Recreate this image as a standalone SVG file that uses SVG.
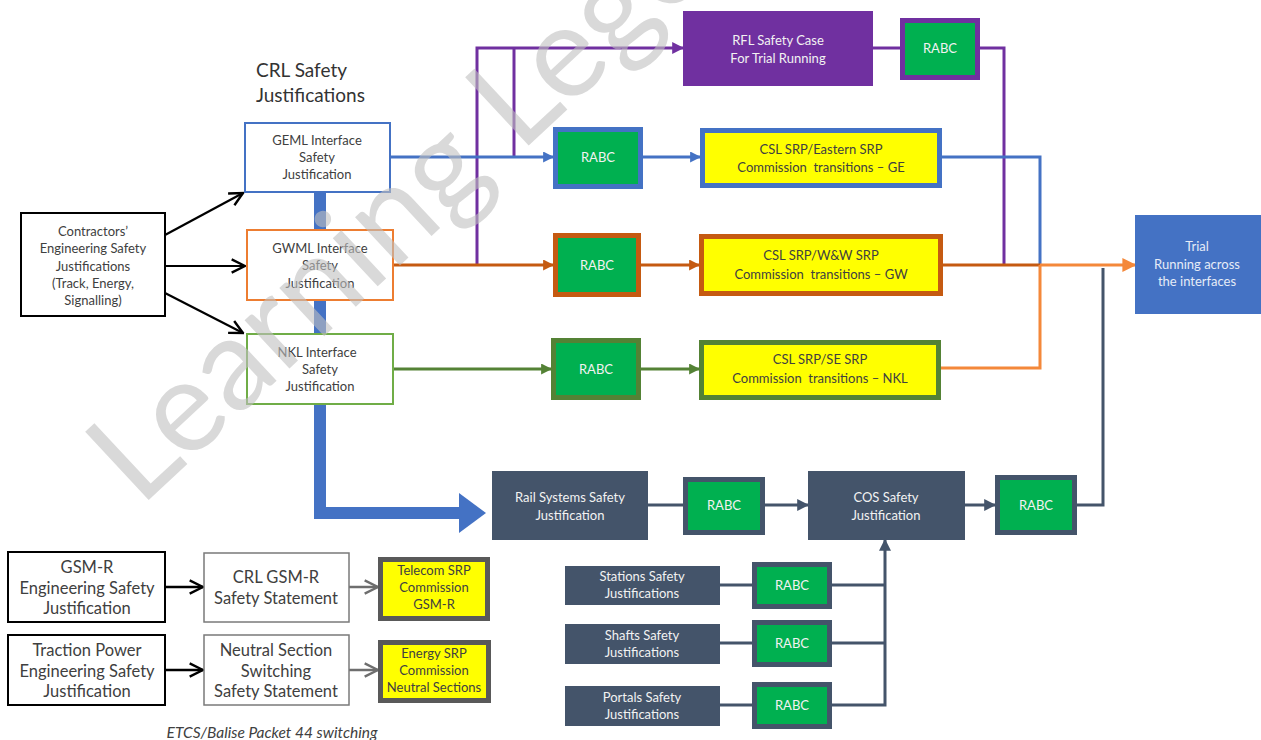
<svg xmlns="http://www.w3.org/2000/svg" width="1261" height="740" viewBox="0 0 1261 740">
  <style>
    .t { font-family: Lato, "Open Sans", "Liberation Sans", sans-serif; text-anchor: middle; }
    .s12 { font-size: 13px; }
    .s17 { font-size: 16.5px; }
    .dark { fill: #404040; }
    .light { fill: #f2f2f2; }
    .wbox { fill: #ffffff; }
    .slate { fill: #44546A; }
    .rabc { fill: #00B050; stroke-width: 5; }
    .srp { fill: #FFFF00; stroke-width: 5; }
    .ln { fill: none; stroke-width: 3; }
  </style>
  <defs>
    <marker id="ab" viewBox="0 0 10 10" refX="9" refY="5" markerWidth="11" markerHeight="11" markerUnits="userSpaceOnUse" orient="auto">
      <path d="M0,0 L10,5 L0,10 z" fill="#4472C4"/>
    </marker>
    <marker id="ao" viewBox="0 0 10 10" refX="9" refY="5" markerWidth="11" markerHeight="11" markerUnits="userSpaceOnUse" orient="auto">
      <path d="M0,0 L10,5 L0,10 z" fill="#C55A11"/>
    </marker>
    <marker id="ao2" viewBox="0 0 10 10" refX="9" refY="5" markerWidth="14" markerHeight="14" markerUnits="userSpaceOnUse" orient="auto">
      <path d="M0,0 L10,5 L0,10 z" fill="#F4883A"/>
    </marker>
    <marker id="ag" viewBox="0 0 10 10" refX="9" refY="5" markerWidth="11" markerHeight="11" markerUnits="userSpaceOnUse" orient="auto">
      <path d="M0,0 L10,5 L0,10 z" fill="#548235"/>
    </marker>
    <marker id="ap" viewBox="0 0 10 10" refX="9" refY="5" markerWidth="12" markerHeight="12" markerUnits="userSpaceOnUse" orient="auto">
      <path d="M0,0 L10,5 L0,10 z" fill="#7030A0"/>
    </marker>
    <marker id="as" viewBox="0 0 10 10" refX="9" refY="5" markerWidth="12" markerHeight="12" markerUnits="userSpaceOnUse" orient="auto">
      <path d="M0,0 L10,5 L0,10 z" fill="#44546A"/>
    </marker>
    <marker id="ak" viewBox="0 0 12 12" refX="11" refY="6" markerWidth="16" markerHeight="16" markerUnits="userSpaceOnUse" orient="auto">
      <path d="M1,1 L11,6 L1,11" fill="none" stroke="#000" stroke-width="1.8"/>
    </marker>
    <marker id="agr" viewBox="0 0 12 12" refX="11" refY="6" markerWidth="16" markerHeight="16" markerUnits="userSpaceOnUse" orient="auto">
      <path d="M1,1 L11,6 L1,11" fill="none" stroke="#6e6e6e" stroke-width="1.8"/>
    </marker>
  </defs>

  <rect width="1261" height="740" fill="#ffffff"/>

  <!-- heading -->
  <text x="256" y="77" style="font-family: Lato, 'Open Sans', 'Liberation Sans', sans-serif; font-size: 19px;" fill="#333333">CRL Safety</text>
  <text x="256" y="102" style="font-family: Lato, 'Open Sans', 'Liberation Sans', sans-serif; font-size: 19px;" fill="#333333">Justifications</text>

  <!-- connectors -->
  <g id="connectors">
    <!-- wide blue route to rail systems -->
    <path d="M320,192 V513 H462" fill="none" stroke="#4472C4" stroke-width="12"/>
    <polygon points="459,493 486,513 459,533" fill="#4472C4"/>

    <!-- contractors fan-out -->
    <line x1="165" y1="235" x2="243" y2="193" stroke="#000" stroke-width="2.2" marker-end="url(#ak)"/>
    <line x1="165" y1="266" x2="245" y2="266" stroke="#000" stroke-width="2.2" marker-end="url(#ak)"/>
    <line x1="165" y1="293" x2="243" y2="333" stroke="#000" stroke-width="2.2" marker-end="url(#ak)"/>

    <!-- purple RFL route -->
    <path class="ln" d="M477,265 V48 H683" stroke="#7030A0" marker-end="url(#ap)"/>
    <path class="ln" d="M514,157 V48" stroke="#7030A0"/>
    <path class="ln" d="M873,48 H900" stroke="#7030A0"/>
    <path class="ln" d="M980,48 H1004 V265" stroke="#7030A0"/>

    <!-- GE route -->
    <path class="ln" d="M390,157 H553" stroke="#4472C4" marker-end="url(#ab)"/>
    <path class="ln" d="M643,157 H700" stroke="#4472C4" marker-end="url(#ab)"/>
    <path class="ln" d="M942,157 H1040 V265" stroke="#4472C4"/>

    <!-- GW route -->
    <path class="ln" d="M393,265 H553" stroke="#C55A11" marker-end="url(#ao)"/>
    <path class="ln" d="M641,265 H699" stroke="#C55A11" marker-end="url(#ao)"/>
    <path class="ln" d="M943,265 H1040" stroke="#C55A11"/>
    <path class="ln" d="M1040,265 H1135" stroke="#F4883A" marker-end="url(#ao2)"/>

    <!-- NKL route -->
    <path class="ln" d="M393,369 H551" stroke="#548235" marker-end="url(#ag)"/>
    <path class="ln" d="M641,369 H699" stroke="#548235" marker-end="url(#ag)"/>
    <path class="ln" d="M941,368 H1040 V265" stroke="#F4883A"/>

    <!-- COS chain -->
    <path class="ln" d="M648,505 H683" stroke="#44546A"/>
    <path class="ln" d="M765,505 H808" stroke="#44546A" marker-end="url(#as)"/>
    <path class="ln" d="M965,505 H995" stroke="#44546A" marker-end="url(#as)"/>
    <path class="ln" d="M1077,505 H1103 V268" stroke="#44546A"/>
    <path class="ln" d="M720,585 H752 M720,643 H752 M720,705 H752" stroke="#44546A"/>
    <path class="ln" d="M832,585 H885 M832,643 H885" stroke="#44546A"/>
    <path class="ln" d="M832,705 H885 V540" stroke="#44546A" marker-end="url(#as)"/>

    <!-- GSM-R and traction power rows -->
    <line x1="165" y1="587" x2="203" y2="587" stroke="#000" stroke-width="2.5" marker-end="url(#ak)"/>
    <line x1="349" y1="587" x2="378" y2="587" stroke="#6e6e6e" stroke-width="2.5" marker-end="url(#agr)"/>
    <line x1="165" y1="670" x2="203" y2="670" stroke="#000" stroke-width="2.5" marker-end="url(#ak)"/>
    <line x1="349" y1="670" x2="378" y2="670" stroke="#6e6e6e" stroke-width="2.5" marker-end="url(#agr)"/>
  </g>

  <!-- interface justifications -->
  <g id="geml">
    <rect class="wbox" x="245" y="123" width="145" height="69" stroke="#4472C4" stroke-width="2"/>
    <text class="t s12 dark" x="317" y="145">GEML Interface</text>
    <text class="t s12 dark" x="317" y="162">Safety</text>
    <text class="t s12 dark" x="317" y="179">Justification</text>
  </g>
  <g id="gwml">
    <rect class="wbox" x="247" y="230" width="146" height="70" stroke="#ED7D31" stroke-width="2"/>
    <text class="t s12 dark" x="320" y="253">GWML Interface</text>
    <text class="t s12 dark" x="320" y="270">Safety</text>
    <text class="t s12 dark" x="320" y="288">Justification</text>
  </g>
  <g id="nkl">
    <rect class="wbox" x="247" y="334" width="146" height="70" stroke="#70AD47" stroke-width="2"/>
    <text class="t s12 dark" x="317" y="357">NKL Interface</text>
    <text class="t s12 dark" x="320" y="374">Safety</text>
    <text class="t s12 dark" x="320" y="391">Justification</text>
  </g>
  <g id="contractors">
    <rect class="wbox" x="21" y="213" width="144" height="103" stroke="#000" stroke-width="2"/>
    <text class="t s12 dark" x="93" y="236">Contractors’</text>
    <text class="t s12 dark" x="93" y="253">Engineering Safety</text>
    <text class="t s12 dark" x="93" y="271">Justifications</text>
    <text class="t s12 dark" x="93" y="288">(Track, Energy,</text>
    <text class="t s12 dark" x="93" y="305">Signalling)</text>
  </g>

  <!-- RFL row -->
  <g id="rfl">
    <rect x="683" y="11" width="190" height="75" fill="#7030A0"/>
    <text class="t s12 light" x="778" y="45">RFL Safety Case</text>
    <text class="t s12 light" x="778" y="63">For Trial Running</text>
  </g>
  <g id="rabc-rfl">
    <rect class="rabc" x="902.5" y="20.5" width="75" height="57" stroke="#7030A0"/>
    <text class="t s12 light" x="940" y="53">RABC</text>
  </g>

  <!-- GE row -->
  <g id="rabc-ge">
    <rect class="rabc" x="555.5" y="129.5" width="85" height="57" stroke="#4472C4"/>
    <text class="t s12 light" x="598" y="162">RABC</text>
  </g>
  <g id="srp-ge">
    <rect class="srp" x="702.5" y="130.5" width="237" height="55" stroke="#4472C4"/>
    <text class="t s12 dark" x="821" y="154">CSL SRP/Eastern SRP</text>
    <text class="t s12 dark" x="821" y="172" xml:space="preserve">Commission  transitions – GE</text>
  </g>

  <!-- GW row -->
  <g id="rabc-gw">
    <rect class="rabc" x="555.5" y="235.5" width="83" height="59" stroke="#C55A11"/>
    <text class="t s12 light" x="597" y="270">RABC</text>
  </g>
  <g id="srp-gw">
    <rect class="srp" x="701.5" y="236.5" width="239" height="57" stroke="#C55A11"/>
    <text class="t s12 dark" x="821" y="260">CSL SRP/W&amp;W SRP</text>
    <text class="t s12 dark" x="821" y="279" xml:space="preserve">Commission  transitions – GW</text>
  </g>

  <!-- NKL row -->
  <g id="rabc-nkl">
    <rect class="rabc" x="553.5" y="340.5" width="85" height="57" stroke="#548235"/>
    <text class="t s12 light" x="596" y="374">RABC</text>
  </g>
  <g id="srp-nkl">
    <rect class="srp" x="701.5" y="342.5" width="237" height="55" stroke="#548235"/>
    <text class="t s12 dark" x="820" y="364">CSL SRP/SE SRP</text>
    <text class="t s12 dark" x="820" y="383" xml:space="preserve">Commission  transitions – NKL</text>
  </g>

  <!-- trial running -->
  <g id="trial">
    <rect x="1135" y="215" width="126" height="99" fill="#4472C4"/>
    <text class="t s12" fill="#e6ecf7" x="1197" y="251">Trial</text>
    <text class="t s12" fill="#e6ecf7" x="1197" y="269">Running across</text>
    <text class="t s12" fill="#e6ecf7" x="1197" y="286">the interfaces</text>
  </g>

  <!-- COS chain -->
  <g id="rail-systems">
    <rect class="slate" x="492" y="471" width="156" height="69"/>
    <text class="t s12 light" x="570" y="502">Rail Systems Safety</text>
    <text class="t s12 light" x="570" y="520">Justification</text>
  </g>
  <g id="rabc-rs">
    <rect class="rabc" x="685.5" y="479.5" width="77" height="53" stroke="#44546A"/>
    <text class="t s12 light" x="724" y="510">RABC</text>
  </g>
  <g id="cos">
    <rect class="slate" x="808" y="471" width="157" height="69"/>
    <text class="t s12 light" x="886" y="502">COS Safety</text>
    <text class="t s12 light" x="886" y="520">Justification</text>
  </g>
  <g id="rabc-cos">
    <rect class="rabc" x="997.5" y="477.5" width="77" height="55" stroke="#44546A"/>
    <text class="t s12 light" x="1036" y="510">RABC</text>
  </g>

  <g id="stations">
    <rect class="slate" x="565" y="566" width="155" height="39"/>
    <text class="t s12 light" x="642" y="581">Stations Safety</text>
    <text class="t s12 light" x="642" y="598">Justifications</text>
  </g>
  <g id="rabc-stations">
    <rect class="rabc" x="754.5" y="564.5" width="75" height="42" stroke="#44546A"/>
    <text class="t s12 light" x="792" y="590">RABC</text>
  </g>
  <g id="shafts">
    <rect class="slate" x="565" y="624" width="155" height="40"/>
    <text class="t s12 light" x="642" y="640">Shafts Safety</text>
    <text class="t s12 light" x="642" y="657">Justifications</text>
  </g>
  <g id="rabc-shafts">
    <rect class="rabc" x="754.5" y="622.5" width="75" height="42" stroke="#44546A"/>
    <text class="t s12 light" x="792" y="648">RABC</text>
  </g>
  <g id="portals">
    <rect class="slate" x="565" y="686" width="155" height="40"/>
    <text class="t s12 light" x="642" y="702">Portals Safety</text>
    <text class="t s12 light" x="642" y="719">Justifications</text>
  </g>
  <g id="rabc-portals">
    <rect class="rabc" x="754.5" y="684.5" width="75" height="42" stroke="#44546A"/>
    <text class="t s12 light" x="792" y="710">RABC</text>
  </g>

  <!-- GSM-R row -->
  <g id="gsmr">
    <rect class="wbox" x="8" y="552" width="157" height="70" stroke="#000" stroke-width="2"/>
    <text class="t s17 dark" x="87" y="573">GSM-R</text>
    <text class="t s17 dark" x="87" y="594">Engineering Safety</text>
    <text class="t s17 dark" x="87" y="614">Justification</text>
  </g>
  <g id="crl-gsmr">
    <rect class="wbox" x="204" y="553" width="145" height="69" stroke="#7a7a7a" stroke-width="1.5"/>
    <text class="t s17 dark" x="276" y="583">CRL GSM-R</text>
    <text class="t s17 dark" x="276" y="604">Safety Statement</text>
  </g>
  <g id="telecom">
    <rect class="srp" x="380.5" y="559.5" width="107" height="59" stroke="#595959"/>
    <text class="t s12 dark" x="434" y="575">Telecom SRP</text>
    <text class="t s12 dark" x="434" y="592">Commission</text>
    <text class="t s12 dark" x="434" y="609">GSM-R</text>
  </g>

  <!-- traction power row -->
  <g id="traction">
    <rect class="wbox" x="8" y="635" width="157" height="70" stroke="#000" stroke-width="2"/>
    <text class="t s17 dark" x="87" y="656">Traction Power</text>
    <text class="t s17 dark" x="87" y="677">Engineering Safety</text>
    <text class="t s17 dark" x="87" y="697">Justification</text>
  </g>
  <g id="neutral">
    <rect class="wbox" x="204" y="635" width="145" height="70" stroke="#7a7a7a" stroke-width="1.5"/>
    <text class="t s17 dark" x="276" y="656">Neutral Section</text>
    <text class="t s17 dark" x="276" y="677">Switching</text>
    <text class="t s17 dark" x="276" y="697">Safety Statement</text>
  </g>
  <g id="energy">
    <rect class="srp" x="380.5" y="642.5" width="108" height="58" stroke="#595959"/>
    <text class="t s12 dark" x="434" y="658">Energy SRP</text>
    <text class="t s12 dark" x="434" y="675">Commission</text>
    <text class="t s12 dark" x="434" y="692">Neutral Sections</text>
  </g>

  <text x="272" y="738" style="font-family: Lato, 'Open Sans', 'Liberation Sans', sans-serif; font-size: 15.5px; font-style: italic; text-anchor: middle;" fill="#404040">ETCS/Balise Packet 44 switching</text>

  <!-- watermark -->
  <text x="140" y="508" transform="rotate(-43 140 508)" style="font-family: Lato, 'Open Sans', 'Liberation Sans', sans-serif; font-size: 130px;" fill="#bfbfbf" fill-opacity="0.6">Learning Legend</text>
</svg>
